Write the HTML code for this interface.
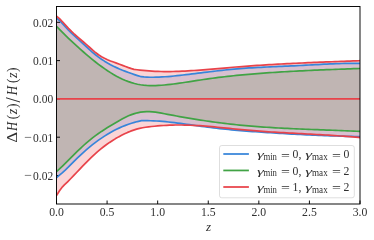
<!DOCTYPE html>
<html><head><meta charset="utf-8"><title>plot</title>
<style>
html,body{margin:0;padding:0;background:#fff;}
svg{display:block;will-change:transform;font-family:"Liberation Serif",serif;}
text{fill:#303030;}
</style></head><body>
<svg width="374" height="240" viewBox="0 0 374 240">
<rect width="374" height="240" fill="#fff"/>
<defs><clipPath id="c"><rect x="56.5" y="6.5" width="303.5" height="197.5"/></clipPath></defs>
<g clip-path="url(#c)">
<polygon points="56.5,18.00 59.5,20.52 62.5,23.63 65.5,26.98 68.5,30.25 71.5,33.21 74.5,35.96 77.5,38.68 80.5,41.44 83.5,44.23 86.5,46.99 89.5,49.69 92.5,52.30 95.5,54.77 98.5,57.07 101.5,59.20 104.5,61.16 107.5,62.97 110.5,64.65 113.5,66.20 116.5,67.63 119.5,68.97 122.5,70.22 125.5,71.39 128.5,72.50 131.5,73.56 134.5,74.58 137.5,75.57 140.5,76.55 141.0,76.71 144.0,76.97 147.0,77.13 150.0,77.23 153.0,77.25 156.0,77.21 159.0,77.11 162.0,76.96 165.0,76.77 168.0,76.54 171.0,76.28 174.0,75.99 177.0,75.68 180.0,75.36 183.0,75.02 186.0,74.68 189.0,74.32 192.0,73.96 195.0,73.59 198.0,73.21 201.0,72.84 204.0,72.46 207.0,72.09 210.0,71.72 213.0,71.36 216.0,71.00 219.0,70.65 222.0,70.31 225.0,69.99 228.0,69.67 231.0,69.38 234.0,69.10 237.0,68.84 240.0,68.60 243.0,68.38 246.0,68.16 249.0,67.97 252.0,67.78 255.0,67.61 258.0,67.44 261.0,67.29 264.0,67.14 267.0,67.00 270.0,66.86 273.0,66.73 276.0,66.60 279.0,66.47 282.0,66.34 285.0,66.21 288.0,66.08 291.0,65.94 294.0,65.80 297.0,65.65 300.0,65.50 303.0,65.34 306.0,65.18 309.0,65.01 312.0,64.85 315.0,64.69 318.0,64.53 321.0,64.37 324.0,64.22 327.0,64.08 330.0,63.94 333.0,63.81 336.0,63.70 339.0,63.59 342.0,63.50 345.0,63.42 348.0,63.36 351.0,63.32 354.0,63.29 357.0,63.28 360.0,63.30 360.0,136.60 357.5,136.56 354.5,136.50 351.5,136.43 348.5,136.36 345.5,136.28 342.5,136.20 339.5,136.11 336.5,136.01 333.5,135.91 330.5,135.81 327.5,135.70 324.5,135.59 321.5,135.47 318.5,135.34 315.5,135.22 312.5,135.08 309.5,134.95 306.5,134.80 303.5,134.66 300.5,134.51 297.5,134.35 294.5,134.19 291.5,134.03 288.5,133.86 285.5,133.69 282.5,133.51 279.5,133.33 276.5,133.15 273.5,132.96 270.5,132.77 267.5,132.58 264.5,132.38 261.5,132.18 258.5,131.97 255.5,131.76 252.5,131.54 249.5,131.31 246.5,131.08 243.5,130.84 240.5,130.59 237.5,130.33 234.5,130.06 231.5,129.78 228.5,129.50 225.5,129.20 222.5,128.88 219.5,128.56 216.5,128.22 213.5,127.87 210.5,127.51 207.5,127.13 204.5,126.73 201.5,126.33 198.5,125.91 195.5,125.49 192.5,125.07 189.5,124.65 186.5,124.24 183.5,123.83 180.5,123.43 177.5,123.05 174.5,122.68 171.5,122.33 168.5,122.01 165.5,121.71 162.5,121.44 159.5,121.21 156.5,121.01 153.5,120.85 150.5,120.73 147.5,120.66 144.5,120.64 141.5,120.67 140.5,120.87 137.5,121.55 134.5,122.34 131.5,123.23 128.5,124.23 125.5,125.34 122.5,126.55 119.5,127.87 116.5,129.30 113.5,130.84 110.5,132.49 107.5,134.24 104.5,136.11 101.5,138.09 98.5,140.17 95.5,142.37 92.5,144.68 89.5,147.10 86.5,149.63 83.5,152.27 80.5,155.03 77.5,157.89 74.5,160.87 71.5,163.95 68.5,166.96 65.5,169.82 62.5,172.53 59.5,175.12 56.5,177.60" fill="#2f7fdb" fill-opacity="0.2"/>
<polygon points="56.5,26.32 59.5,29.40 62.5,32.42 65.5,35.37 68.5,38.27 71.5,41.11 74.5,43.90 77.5,46.64 80.5,49.34 83.5,52.00 86.5,54.59 89.5,57.13 92.5,59.60 95.5,61.99 98.5,64.30 101.5,66.53 104.5,68.66 107.5,70.69 110.5,72.62 113.5,74.44 116.5,76.14 119.5,77.71 122.5,79.16 125.5,80.47 128.5,81.64 131.5,82.66 134.5,83.52 137.5,84.23 140.5,84.78 143.5,85.18 146.5,85.45 149.5,85.61 152.5,85.65 155.5,85.60 158.5,85.46 161.5,85.26 164.5,84.99 167.5,84.68 170.5,84.34 173.5,83.97 176.5,83.57 179.5,83.16 182.5,82.72 185.5,82.28 188.5,81.82 191.5,81.36 194.5,80.89 197.5,80.43 200.5,79.97 203.5,79.51 206.5,79.07 209.5,78.64 212.5,78.23 215.5,77.84 218.5,77.46 221.5,77.09 224.5,76.74 227.5,76.40 230.5,76.07 233.5,75.75 236.5,75.45 239.5,75.16 242.5,74.87 245.5,74.60 248.5,74.34 251.5,74.08 254.5,73.84 257.5,73.60 260.5,73.37 263.5,73.15 266.5,72.93 269.5,72.72 272.5,72.51 275.5,72.32 278.5,72.12 281.5,71.94 284.5,71.76 287.5,71.58 290.5,71.41 293.5,71.25 296.5,71.09 299.5,70.93 302.5,70.78 305.5,70.63 308.5,70.49 311.5,70.35 314.5,70.22 317.5,70.09 320.5,69.96 323.5,69.84 326.5,69.71 329.5,69.59 332.5,69.48 335.5,69.36 338.5,69.25 341.5,69.14 344.5,69.04 347.5,68.93 350.5,68.82 353.5,68.72 356.5,68.62 359.5,68.52 360.0,68.50 360.0,131.40 359.5,131.38 356.5,131.24 353.5,131.11 350.5,130.98 347.5,130.85 344.5,130.73 341.5,130.61 338.5,130.50 335.5,130.38 332.5,130.27 329.5,130.16 326.5,130.05 323.5,129.94 320.5,129.83 317.5,129.72 314.5,129.60 311.5,129.49 308.5,129.37 305.5,129.26 302.5,129.13 299.5,129.01 296.5,128.88 293.5,128.75 290.5,128.61 287.5,128.47 284.5,128.32 281.5,128.16 278.5,128.00 275.5,127.83 272.5,127.65 269.5,127.47 266.5,127.27 263.5,127.07 260.5,126.86 257.5,126.64 254.5,126.41 251.5,126.16 248.5,125.91 245.5,125.64 242.5,125.36 239.5,125.07 236.5,124.77 233.5,124.45 230.5,124.11 227.5,123.77 224.5,123.41 221.5,123.03 218.5,122.65 215.5,122.25 212.5,121.83 209.5,121.41 206.5,120.97 203.5,120.52 200.5,120.06 197.5,119.59 194.5,119.11 191.5,118.61 188.5,118.11 185.5,117.60 182.5,117.07 179.5,116.54 176.5,116.00 173.5,115.44 170.5,114.88 167.5,114.31 164.5,113.74 161.5,113.17 158.5,112.65 155.5,112.20 152.5,111.85 149.5,111.65 146.5,111.62 143.5,111.80 140.5,112.19 137.5,112.80 134.5,113.61 131.5,114.62 128.5,115.83 125.5,117.22 122.5,118.76 119.5,120.41 116.5,122.15 113.5,123.94 110.5,125.74 107.5,127.58 104.5,129.47 101.5,131.42 98.5,133.47 95.5,135.63 92.5,137.91 89.5,140.32 86.5,142.84 83.5,145.50 80.5,148.27 77.5,151.16 74.5,154.14 71.5,157.15 68.5,160.18 65.5,163.17 62.5,166.10 59.5,168.92 56.5,171.60" fill="#43a647" fill-opacity="0.2"/>
<polygon points="56.5,16.10 59.5,18.71 62.5,21.79 65.5,25.09 68.5,28.35 71.5,31.41 74.5,34.25 77.5,36.93 80.5,39.50 83.5,42.02 86.5,44.58 89.5,47.25 92.5,49.96 95.5,52.53 98.5,54.77 101.5,56.68 104.5,58.30 107.5,59.71 110.5,60.94 113.5,62.07 116.5,63.14 119.5,64.21 122.5,65.33 125.5,66.47 128.5,67.58 131.5,68.61 134.0,69.35 137.0,69.72 140.0,70.08 143.0,70.40 146.0,70.69 149.0,70.94 152.0,71.14 155.0,71.31 158.0,71.43 161.0,71.51 164.0,71.56 167.0,71.57 170.0,71.55 173.0,71.50 176.0,71.42 179.0,71.32 182.0,71.19 185.0,71.05 188.0,70.89 191.0,70.70 194.0,70.51 197.0,70.30 200.0,70.08 203.0,69.84 206.0,69.60 209.0,69.35 212.0,69.09 215.0,68.83 218.0,68.57 221.0,68.30 224.0,68.04 227.0,67.78 230.0,67.52 233.0,67.26 236.0,67.02 239.0,66.78 242.0,66.54 245.0,66.32 248.0,66.09 251.0,65.88 254.0,65.67 257.0,65.47 260.0,65.27 263.0,65.08 266.0,64.89 269.0,64.71 272.0,64.53 275.0,64.36 278.0,64.19 281.0,64.02 284.0,63.86 287.0,63.71 290.0,63.55 293.0,63.41 296.0,63.26 299.0,63.12 302.0,62.98 305.0,62.85 308.0,62.71 311.0,62.58 314.0,62.45 317.0,62.33 320.0,62.21 323.0,62.09 326.0,61.97 329.0,61.85 332.0,61.73 335.0,61.62 338.0,61.50 341.0,61.39 344.0,61.28 347.0,61.17 350.0,61.06 353.0,60.95 356.0,60.84 359.0,60.73 360.0,60.69 360.0,137.60 358.6,137.47 355.6,137.19 352.6,136.93 349.6,136.68 346.6,136.44 343.6,136.21 340.6,135.99 337.6,135.77 334.6,135.57 331.6,135.37 328.6,135.18 325.6,135.00 322.6,134.82 319.6,134.65 316.6,134.48 313.6,134.31 310.6,134.15 307.6,133.99 304.6,133.83 301.6,133.67 298.6,133.51 295.6,133.36 292.6,133.20 289.6,133.03 286.6,132.87 283.6,132.70 280.6,132.53 277.6,132.35 274.6,132.17 271.6,131.98 268.6,131.79 265.6,131.59 262.6,131.38 259.6,131.16 256.6,130.94 253.6,130.70 250.6,130.45 247.6,130.19 244.6,129.92 241.6,129.64 238.6,129.35 235.6,129.05 232.6,128.75 229.6,128.44 226.6,128.13 223.6,127.83 220.6,127.53 217.6,127.23 214.6,126.95 211.6,126.67 208.6,126.41 205.6,126.16 202.6,125.93 199.6,125.72 196.6,125.53 193.6,125.37 190.6,125.23 187.6,125.12 184.6,125.04 181.6,124.99 178.6,124.98 175.6,125.01 172.6,125.08 169.6,125.19 166.6,125.33 163.6,125.51 160.6,125.72 157.6,125.96 154.6,126.23 151.6,126.53 148.6,126.87 145.6,127.27 142.6,127.76 139.6,128.38 136.6,129.15 133.6,130.08 130.6,131.17 127.6,132.40 124.6,133.78 121.6,135.27 118.6,136.88 115.6,138.60 112.6,140.45 109.6,142.42 106.6,144.53 103.6,146.78 100.6,149.17 97.6,151.70 94.6,154.37 91.6,157.16 88.6,160.07 85.6,163.09 82.6,166.19 79.6,169.34 76.6,172.51 73.6,175.67 70.6,178.77 67.6,181.79 64.6,184.70 62.5,186.84 59.5,190.73 56.5,195.60" fill="#e62d33" fill-opacity="0.2"/>
</g>

<g stroke="#000" stroke-width="0.95">
<line x1="56.50" y1="204" x2="56.50" y2="200.5"/>
<line x1="107.08" y1="204" x2="107.08" y2="200.5"/>
<line x1="157.67" y1="204" x2="157.67" y2="200.5"/>
<line x1="208.25" y1="204" x2="208.25" y2="200.5"/>
<line x1="258.83" y1="204" x2="258.83" y2="200.5"/>
<line x1="309.42" y1="204" x2="309.42" y2="200.5"/>
<line x1="360.00" y1="204" x2="360.00" y2="200.5"/>
<line x1="56.5" y1="22.30" x2="60.0" y2="22.30"/>
<line x1="56.5" y1="60.60" x2="60.0" y2="60.60"/>
<line x1="56.5" y1="98.90" x2="60.0" y2="98.90"/>
<line x1="56.5" y1="137.20" x2="60.0" y2="137.20"/>
<line x1="56.5" y1="175.50" x2="60.0" y2="175.50"/>
</g>
<g clip-path="url(#c)">
<g fill="none" stroke-width="1.7" stroke-linejoin="round">
<polyline points="56.5,18.00 59.5,20.52 62.5,23.63 65.5,26.98 68.5,30.25 71.5,33.21 74.5,35.96 77.5,38.68 80.5,41.44 83.5,44.23 86.5,46.99 89.5,49.69 92.5,52.30 95.5,54.77 98.5,57.07 101.5,59.20 104.5,61.16 107.5,62.97 110.5,64.65 113.5,66.20 116.5,67.63 119.5,68.97 122.5,70.22 125.5,71.39 128.5,72.50 131.5,73.56 134.5,74.58 137.5,75.57 140.5,76.55 141.0,76.71 144.0,76.97 147.0,77.13 150.0,77.23 153.0,77.25 156.0,77.21 159.0,77.11 162.0,76.96 165.0,76.77 168.0,76.54 171.0,76.28 174.0,75.99 177.0,75.68 180.0,75.36 183.0,75.02 186.0,74.68 189.0,74.32 192.0,73.96 195.0,73.59 198.0,73.21 201.0,72.84 204.0,72.46 207.0,72.09 210.0,71.72 213.0,71.36 216.0,71.00 219.0,70.65 222.0,70.31 225.0,69.99 228.0,69.67 231.0,69.38 234.0,69.10 237.0,68.84 240.0,68.60 243.0,68.38 246.0,68.16 249.0,67.97 252.0,67.78 255.0,67.61 258.0,67.44 261.0,67.29 264.0,67.14 267.0,67.00 270.0,66.86 273.0,66.73 276.0,66.60 279.0,66.47 282.0,66.34 285.0,66.21 288.0,66.08 291.0,65.94 294.0,65.80 297.0,65.65 300.0,65.50 303.0,65.34 306.0,65.18 309.0,65.01 312.0,64.85 315.0,64.69 318.0,64.53 321.0,64.37 324.0,64.22 327.0,64.08 330.0,63.94 333.0,63.81 336.0,63.70 339.0,63.59 342.0,63.50 345.0,63.42 348.0,63.36 351.0,63.32 354.0,63.29 357.0,63.28 360.0,63.30" stroke="#3785da"/>
<polyline points="56.5,177.60 59.5,175.12 62.5,172.53 65.5,169.82 68.5,166.96 71.5,163.95 74.5,160.87 77.5,157.89 80.5,155.03 83.5,152.27 86.5,149.63 89.5,147.10 92.5,144.68 95.5,142.37 98.5,140.17 101.5,138.09 104.5,136.11 107.5,134.24 110.5,132.49 113.5,130.84 116.5,129.30 119.5,127.87 122.5,126.55 125.5,125.34 128.5,124.23 131.5,123.23 134.5,122.34 137.5,121.55 140.5,120.87 141.5,120.67 144.5,120.64 147.5,120.66 150.5,120.73 153.5,120.85 156.5,121.01 159.5,121.21 162.5,121.44 165.5,121.71 168.5,122.01 171.5,122.33 174.5,122.68 177.5,123.05 180.5,123.43 183.5,123.83 186.5,124.24 189.5,124.65 192.5,125.07 195.5,125.49 198.5,125.91 201.5,126.33 204.5,126.73 207.5,127.13 210.5,127.51 213.5,127.87 216.5,128.22 219.5,128.56 222.5,128.88 225.5,129.20 228.5,129.50 231.5,129.78 234.5,130.06 237.5,130.33 240.5,130.59 243.5,130.84 246.5,131.08 249.5,131.31 252.5,131.54 255.5,131.76 258.5,131.97 261.5,132.18 264.5,132.38 267.5,132.58 270.5,132.77 273.5,132.96 276.5,133.15 279.5,133.33 282.5,133.51 285.5,133.69 288.5,133.86 291.5,134.03 294.5,134.19 297.5,134.35 300.5,134.51 303.5,134.66 306.5,134.80 309.5,134.95 312.5,135.08 315.5,135.22 318.5,135.34 321.5,135.47 324.5,135.59 327.5,135.70 330.5,135.81 333.5,135.91 336.5,136.01 339.5,136.11 342.5,136.20 345.5,136.28 348.5,136.36 351.5,136.43 354.5,136.50 357.5,136.56 360.0,136.60" stroke="#3785da"/>
<polyline points="56.5,26.32 59.5,29.40 62.5,32.42 65.5,35.37 68.5,38.27 71.5,41.11 74.5,43.90 77.5,46.64 80.5,49.34 83.5,52.00 86.5,54.59 89.5,57.13 92.5,59.60 95.5,61.99 98.5,64.30 101.5,66.53 104.5,68.66 107.5,70.69 110.5,72.62 113.5,74.44 116.5,76.14 119.5,77.71 122.5,79.16 125.5,80.47 128.5,81.64 131.5,82.66 134.5,83.52 137.5,84.23 140.5,84.78 143.5,85.18 146.5,85.45 149.5,85.61 152.5,85.65 155.5,85.60 158.5,85.46 161.5,85.26 164.5,84.99 167.5,84.68 170.5,84.34 173.5,83.97 176.5,83.57 179.5,83.16 182.5,82.72 185.5,82.28 188.5,81.82 191.5,81.36 194.5,80.89 197.5,80.43 200.5,79.97 203.5,79.51 206.5,79.07 209.5,78.64 212.5,78.23 215.5,77.84 218.5,77.46 221.5,77.09 224.5,76.74 227.5,76.40 230.5,76.07 233.5,75.75 236.5,75.45 239.5,75.16 242.5,74.87 245.5,74.60 248.5,74.34 251.5,74.08 254.5,73.84 257.5,73.60 260.5,73.37 263.5,73.15 266.5,72.93 269.5,72.72 272.5,72.51 275.5,72.32 278.5,72.12 281.5,71.94 284.5,71.76 287.5,71.58 290.5,71.41 293.5,71.25 296.5,71.09 299.5,70.93 302.5,70.78 305.5,70.63 308.5,70.49 311.5,70.35 314.5,70.22 317.5,70.09 320.5,69.96 323.5,69.84 326.5,69.71 329.5,69.59 332.5,69.48 335.5,69.36 338.5,69.25 341.5,69.14 344.5,69.04 347.5,68.93 350.5,68.82 353.5,68.72 356.5,68.62 359.5,68.52 360.0,68.50" stroke="#41a345"/>
<polyline points="56.5,171.60 59.5,168.92 62.5,166.10 65.5,163.17 68.5,160.18 71.5,157.15 74.5,154.14 77.5,151.16 80.5,148.27 83.5,145.50 86.5,142.84 89.5,140.32 92.5,137.91 95.5,135.63 98.5,133.47 101.5,131.42 104.5,129.47 107.5,127.58 110.5,125.74 113.5,123.94 116.5,122.15 119.5,120.41 122.5,118.76 125.5,117.22 128.5,115.83 131.5,114.62 134.5,113.61 137.5,112.80 140.5,112.19 143.5,111.80 146.5,111.62 149.5,111.65 152.5,111.85 155.5,112.20 158.5,112.65 161.5,113.17 164.5,113.74 167.5,114.31 170.5,114.88 173.5,115.44 176.5,116.00 179.5,116.54 182.5,117.07 185.5,117.60 188.5,118.11 191.5,118.61 194.5,119.11 197.5,119.59 200.5,120.06 203.5,120.52 206.5,120.97 209.5,121.41 212.5,121.83 215.5,122.25 218.5,122.65 221.5,123.03 224.5,123.41 227.5,123.77 230.5,124.11 233.5,124.45 236.5,124.77 239.5,125.07 242.5,125.36 245.5,125.64 248.5,125.91 251.5,126.16 254.5,126.41 257.5,126.64 260.5,126.86 263.5,127.07 266.5,127.27 269.5,127.47 272.5,127.65 275.5,127.83 278.5,128.00 281.5,128.16 284.5,128.32 287.5,128.47 290.5,128.61 293.5,128.75 296.5,128.88 299.5,129.01 302.5,129.13 305.5,129.26 308.5,129.37 311.5,129.49 314.5,129.60 317.5,129.72 320.5,129.83 323.5,129.94 326.5,130.05 329.5,130.16 332.5,130.27 335.5,130.38 338.5,130.50 341.5,130.61 344.5,130.73 347.5,130.85 350.5,130.98 353.5,131.11 356.5,131.24 359.5,131.38 360.0,131.40" stroke="#41a345"/>
<polyline points="56.5,16.10 59.5,18.71 62.5,21.79 65.5,25.09 68.5,28.35 71.5,31.41 74.5,34.25 77.5,36.93 80.5,39.50 83.5,42.02 86.5,44.58 89.5,47.25 92.5,49.96 95.5,52.53 98.5,54.77 101.5,56.68 104.5,58.30 107.5,59.71 110.5,60.94 113.5,62.07 116.5,63.14 119.5,64.21 122.5,65.33 125.5,66.47 128.5,67.58 131.5,68.61 134.0,69.35 137.0,69.72 140.0,70.08 143.0,70.40 146.0,70.69 149.0,70.94 152.0,71.14 155.0,71.31 158.0,71.43 161.0,71.51 164.0,71.56 167.0,71.57 170.0,71.55 173.0,71.50 176.0,71.42 179.0,71.32 182.0,71.19 185.0,71.05 188.0,70.89 191.0,70.70 194.0,70.51 197.0,70.30 200.0,70.08 203.0,69.84 206.0,69.60 209.0,69.35 212.0,69.09 215.0,68.83 218.0,68.57 221.0,68.30 224.0,68.04 227.0,67.78 230.0,67.52 233.0,67.26 236.0,67.02 239.0,66.78 242.0,66.54 245.0,66.32 248.0,66.09 251.0,65.88 254.0,65.67 257.0,65.47 260.0,65.27 263.0,65.08 266.0,64.89 269.0,64.71 272.0,64.53 275.0,64.36 278.0,64.19 281.0,64.02 284.0,63.86 287.0,63.71 290.0,63.55 293.0,63.41 296.0,63.26 299.0,63.12 302.0,62.98 305.0,62.85 308.0,62.71 311.0,62.58 314.0,62.45 317.0,62.33 320.0,62.21 323.0,62.09 326.0,61.97 329.0,61.85 332.0,61.73 335.0,61.62 338.0,61.50 341.0,61.39 344.0,61.28 347.0,61.17 350.0,61.06 353.0,60.95 356.0,60.84 359.0,60.73 360.0,60.69" stroke="#e8434a"/>
<polyline points="56.5,195.60 59.5,190.73 62.5,186.84 64.6,184.70 67.6,181.79 70.6,178.77 73.6,175.67 76.6,172.51 79.6,169.34 82.6,166.19 85.6,163.09 88.6,160.07 91.6,157.16 94.6,154.37 97.6,151.70 100.6,149.17 103.6,146.78 106.6,144.53 109.6,142.42 112.6,140.45 115.6,138.60 118.6,136.88 121.6,135.27 124.6,133.78 127.6,132.40 130.6,131.17 133.6,130.08 136.6,129.15 139.6,128.38 142.6,127.76 145.6,127.27 148.6,126.87 151.6,126.53 154.6,126.23 157.6,125.96 160.6,125.72 163.6,125.51 166.6,125.33 169.6,125.19 172.6,125.08 175.6,125.01 178.6,124.98 181.6,124.99 184.6,125.04 187.6,125.12 190.6,125.23 193.6,125.37 196.6,125.53 199.6,125.72 202.6,125.93 205.6,126.16 208.6,126.41 211.6,126.67 214.6,126.95 217.6,127.23 220.6,127.53 223.6,127.83 226.6,128.13 229.6,128.44 232.6,128.75 235.6,129.05 238.6,129.35 241.6,129.64 244.6,129.92 247.6,130.19 250.6,130.45 253.6,130.70 256.6,130.94 259.6,131.16 262.6,131.38 265.6,131.59 268.6,131.79 271.6,131.98 274.6,132.17 277.6,132.35 280.6,132.53 283.6,132.70 286.6,132.87 289.6,133.03 292.6,133.20 295.6,133.36 298.6,133.51 301.6,133.67 304.6,133.83 307.6,133.99 310.6,134.15 313.6,134.31 316.6,134.48 319.6,134.65 322.6,134.82 325.6,135.00 328.6,135.18 331.6,135.37 334.6,135.57 337.6,135.77 340.6,135.99 343.6,136.21 346.6,136.44 349.6,136.68 352.6,136.93 355.6,137.19 358.6,137.47 360.0,137.60" stroke="#e8434a"/>
<line x1="56.5" y1="98.9" x2="360" y2="98.9" stroke="#e8434a"/>
</g>
</g>

<rect x="56.5" y="6.5" width="303.5" height="197.5" fill="none" stroke="#000" stroke-width="0.95"/>
<g font-size="12px">
<text transform="translate(56.50,216.1) scale(0.98,1.1)" text-anchor="middle">0.0</text>
<text transform="translate(107.08,216.1) scale(0.98,1.1)" text-anchor="middle">0.5</text>
<text transform="translate(157.67,216.1) scale(0.98,1.1)" text-anchor="middle">1.0</text>
<text transform="translate(208.25,216.1) scale(0.98,1.1)" text-anchor="middle">1.5</text>
<text transform="translate(258.83,216.1) scale(0.98,1.1)" text-anchor="middle">2.0</text>
<text transform="translate(309.42,216.1) scale(0.98,1.1)" text-anchor="middle">2.5</text>
<text transform="translate(360.00,216.1) scale(0.98,1.1)" text-anchor="middle">3.0</text>
<text transform="translate(53.2,26.75) scale(0.96,1.1)" text-anchor="end">0.02</text>
<text transform="translate(53.2,65.05) scale(0.96,1.1)" text-anchor="end">0.01</text>
<text transform="translate(53.2,103.35) scale(0.96,1.1)" text-anchor="end">0.00</text>
<text transform="translate(24.14,141.10) scale(1.145,1)">−</text>
<text transform="translate(53.2,141.65) scale(0.96,1.1)" text-anchor="end">0.01</text>
<text transform="translate(24.14,179.40) scale(1.145,1)">−</text>
<text transform="translate(53.2,179.95) scale(0.96,1.1)" text-anchor="end">0.02</text>
</g>
<text x="208.5" y="230.5" font-size="13.1px" font-style="italic" text-anchor="middle" fill="#3a3a3a">z</text>
<text transform="translate(17.35,142.74) rotate(-90) scale(1.182,1.045)" font-size="14.2px" fill="#3a3a3a">Δ</text>
<text transform="translate(17.35,130.94) rotate(-90) scale(0.891,1.059)" font-size="14.2px" font-style="italic" fill="#3a3a3a">H</text>
<text transform="translate(16.53,119.14) rotate(-90) scale(0.95,1.024)" font-size="14.2px" fill="#3a3a3a">(</text>
<text transform="translate(17.2,114.27) rotate(-90) scale(1.009,1.0)" font-size="14.2px" font-style="italic" fill="#3a3a3a">z</text>
<text transform="translate(16.53,107.88) rotate(-90) scale(0.95,1.024)" font-size="14.2px" fill="#3a3a3a">)</text>
<text transform="translate(20.47,102.40) rotate(-90) scale(1.329,1.421)" font-size="14.2px" fill="#3a3a3a">/</text>
<text transform="translate(17.35,95.28) rotate(-90) scale(0.923,1.059)" font-size="14.2px" font-style="italic" fill="#3a3a3a">H</text>
<text transform="translate(16.53,83.04) rotate(-90) scale(0.95,1.024)" font-size="14.2px" fill="#3a3a3a">(</text>
<text transform="translate(17.2,78.12) rotate(-90) scale(1.018,1.0)" font-size="14.2px" font-style="italic" fill="#3a3a3a">z</text>
<text transform="translate(16.53,72.03) rotate(-90) scale(0.95,1.024)" font-size="14.2px" fill="#3a3a3a">)</text>
<rect x="219.5" y="145.5" width="134.8" height="52.3" rx="2.3" ry="2.3" fill="#fff" fill-opacity="0.8" stroke="#ccc" stroke-opacity="0.7" stroke-width="0.93"/>
<line x1="223.3" y1="154.0" x2="248.9" y2="154.0" stroke="#3785da" stroke-width="1.75"/>
<g font-size="12px"><text transform="translate(256.9,158.3) scale(1.45,0.88)" font-style="italic" fill="#4a4a4a">γ</text><text x="263.4" y="160.0" font-size="9.4px" textLength="13.5" lengthAdjust="spacingAndGlyphs">min</text><text x="281.0" y="159.50" textLength="8.9" lengthAdjust="spacingAndGlyphs">=</text><text transform="translate(292.6,158.20) scale(0.98,1.1)">0,</text><text transform="translate(305.3,158.3) scale(1.45,0.88)" font-style="italic" fill="#4a4a4a">γ</text><text x="312.0" y="160.0" font-size="9.4px" textLength="15.7" lengthAdjust="spacingAndGlyphs">max</text><text x="331.9" y="159.50" textLength="8.9" lengthAdjust="spacingAndGlyphs">=</text><text transform="translate(343.6,158.20) scale(0.98,1.1)">0</text></g>
<line x1="223.3" y1="170.45000000000002" x2="248.9" y2="170.45000000000002" stroke="#41a345" stroke-width="1.75"/>
<g font-size="12px"><text transform="translate(256.9,174.7) scale(1.45,0.88)" font-style="italic" fill="#4a4a4a">γ</text><text x="263.4" y="176.39999999999998" font-size="9.4px" textLength="13.5" lengthAdjust="spacingAndGlyphs">min</text><text x="281.0" y="175.90" textLength="8.9" lengthAdjust="spacingAndGlyphs">=</text><text transform="translate(292.6,174.60) scale(0.98,1.1)">0,</text><text transform="translate(305.3,174.7) scale(1.45,0.88)" font-style="italic" fill="#4a4a4a">γ</text><text x="312.0" y="176.39999999999998" font-size="9.4px" textLength="15.7" lengthAdjust="spacingAndGlyphs">max</text><text x="331.9" y="175.90" textLength="8.9" lengthAdjust="spacingAndGlyphs">=</text><text transform="translate(343.6,174.60) scale(0.98,1.1)">2</text></g>
<line x1="223.3" y1="187.0" x2="248.9" y2="187.0" stroke="#e8434a" stroke-width="1.75"/>
<g font-size="12px"><text transform="translate(256.9,191.0) scale(1.45,0.88)" font-style="italic" fill="#4a4a4a">γ</text><text x="263.4" y="192.7" font-size="9.4px" textLength="13.5" lengthAdjust="spacingAndGlyphs">min</text><text x="281.0" y="192.20" textLength="8.9" lengthAdjust="spacingAndGlyphs">=</text><text transform="translate(292.6,190.90) scale(0.98,1.1)">1,</text><text transform="translate(305.3,191.0) scale(1.45,0.88)" font-style="italic" fill="#4a4a4a">γ</text><text x="312.0" y="192.7" font-size="9.4px" textLength="15.7" lengthAdjust="spacingAndGlyphs">max</text><text x="331.9" y="192.20" textLength="8.9" lengthAdjust="spacingAndGlyphs">=</text><text transform="translate(343.6,190.90) scale(0.98,1.1)">2</text></g>
</svg></body></html>
